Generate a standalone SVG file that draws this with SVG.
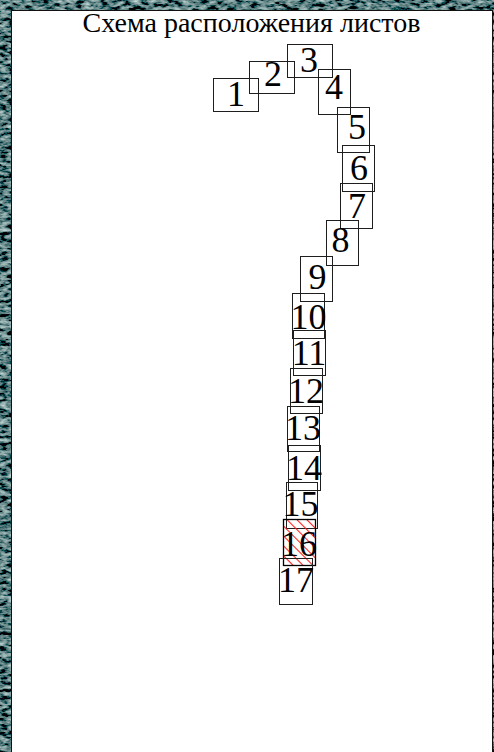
<svg xmlns="http://www.w3.org/2000/svg" width="494" height="752" viewBox="0 0 494 752">
<defs>
<style>
.sheet rect.b{fill:none;stroke:#1e1e1e;stroke-width:1}
.sheet text{font-family:"Liberation Serif","Times New Roman",serif;font-size:36px;fill:#000;text-anchor:middle}
.title{font-family:"Liberation Serif","Times New Roman",serif;font-size:28px;fill:#000;text-anchor:middle}
</style>
<filter id="rock" x="0" y="0" width="100%" height="100%">
<feTurbulence type="fractalNoise" baseFrequency="0.12 0.28" numOctaves="3" seed="7" result="n"/>
<feColorMatrix type="matrix" in="n" values="1.1 0 0 0 -0.45  1.3 0 0 0 -0.45  1.25 0 0 0 -0.42  0 0 0 0 1"/>
</filter>
<pattern id="hatch" patternUnits="userSpaceOnUse" width="7" height="7" patternTransform="rotate(45)">
<line x1="0" y1="3.5" x2="7" y2="3.5" stroke="#ff1a1a" stroke-width="1.1"/>
</pattern>
</defs>
<rect x="0" y="0" width="494" height="752" fill="#101a20"/>
<rect x="0" y="0" width="494" height="752" filter="url(#rock)"/>
<rect x="11.5" y="10.5" width="481" height="745" fill="#ffffff" stroke="#111" stroke-width="1"/>
<text class="title" x="251.5" y="31.5">Схема расположения листов</text>
<g class="sheet" id="sheet1"><rect class="b" x="213.5" y="78.5" width="45" height="33"/><text x="236" y="106">1</text></g>
<g class="sheet" id="sheet2"><rect class="b" x="249.5" y="61.5" width="45" height="32"/><text x="273" y="86">2</text></g>
<g class="sheet" id="sheet3"><rect class="b" x="287.5" y="44.5" width="45" height="33"/><text x="309" y="72">3</text></g>
<g class="sheet" id="sheet4"><rect class="b" x="318.5" y="69.5" width="32" height="45"/><text x="334" y="99">4</text></g>
<g class="sheet" id="sheet5"><rect class="b" x="337.5" y="107.5" width="32" height="45"/><text x="357" y="139">5</text></g>
<g class="sheet" id="sheet6"><rect class="b" x="342.5" y="145.5" width="32" height="46"/><text x="359" y="180">6</text></g>
<g class="sheet" id="sheet7"><rect class="b" x="340.5" y="183.5" width="32" height="45"/><text x="357" y="218">7</text></g>
<g class="sheet" id="sheet8"><rect class="b" x="326.5" y="220.5" width="32" height="45"/><text x="340.5" y="252">8</text></g>
<g class="sheet" id="sheet9"><rect class="b" x="300.5" y="256.5" width="32" height="45"/><text x="317.5" y="289">9</text></g>
<g class="sheet" id="sheet10"><rect class="b" x="292.5" y="293.5" width="32" height="45"/><text x="308.5" y="329">10</text></g>
<g class="sheet" id="sheet11"><rect class="b" x="293.5" y="330.5" width="32" height="45"/><text x="309" y="365">11</text></g>
<g class="sheet" id="sheet12"><rect class="b" x="290.5" y="368.5" width="32" height="45"/><text x="306" y="403">12</text></g>
<g class="sheet" id="sheet13"><rect class="b" x="287.5" y="406.5" width="32" height="45"/><text x="303" y="440">13</text></g>
<g class="sheet" id="sheet14"><rect class="b" x="288.5" y="445.5" width="32" height="45"/><text x="304" y="480">14</text></g>
<g class="sheet" id="sheet15"><rect class="b" x="286.5" y="482.5" width="31" height="46"/><text x="300.5" y="516">15</text></g>
<g class="sheet" id="sheet16"><rect x="283.5" y="519.5" width="32" height="46" fill="url(#hatch)"/><rect class="b" x="283.5" y="519.5" width="32" height="46" style="stroke:#000;stroke-width:1.3"/><text x="299" y="556">16</text></g>
<g class="sheet" id="sheet17"><rect class="b" x="279.5" y="558.5" width="33" height="46"/><text x="296" y="592">17</text></g>
</svg>
